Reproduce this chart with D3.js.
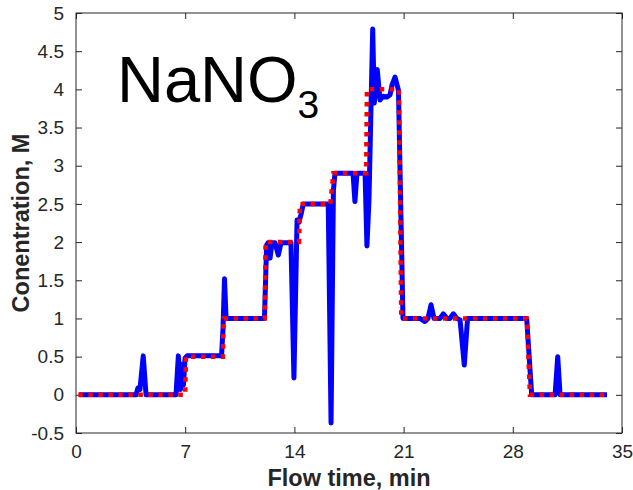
<!DOCTYPE html>
<html>
<head>
<meta charset="utf-8">
<script src="https://cdn.jsdelivr.net/npm/d3@7"></script>
<style>
  body { margin: 0; background: #fff; }
  text { font-family: "Liberation Sans", Arial, sans-serif; }
</style>
</head>
<body>
<div id="plot"></div>
<script>
// measured concentration (blue, solid)
var timeMeas = [0.2, 3.85, 3.97, 4.1, 4.31, 4.49, 6.41, 6.56, 6.7, 6.79, 6.89, 6.99, 7.12,
  9.33, 9.42, 9.52, 9.62, 12.08, 12.22, 12.31, 12.44, 12.56, 12.76, 12.97, 13.14, 13.78,
  13.97, 14.17, 14.29, 14.42, 14.57, 16.17, 16.35, 16.5, 16.6, 17.76, 17.88, 18.01, 18.53,
  18.65, 18.78, 19.02, 19.12, 19.31, 19.49, 19.68, 19.94, 20.13, 20.26, 20.45, 20.58, 20.67,
  20.96, 22.05, 22.37, 22.56, 22.76, 22.95, 23.33, 23.54, 23.78, 23.97, 24.19, 24.42, 24.62,
  24.89, 25.1, 28.89, 29.21, 30.71, 30.88, 31.03, 34.04];
var concMeas = [0, 0, 0.09, 0.07, 0.51, 0, 0, 0.51, 0.07, 0.4, 0.13, 0.48, 0.51,
  0.51, 0.85, 1.52, 1.0, 1.0, 1.96, 1.99, 1.79, 1.99, 1.99, 1.83, 1.99, 1.99,
  0.22, 2.29, 2.26, 2.36, 2.5, 2.5, -0.37, 2.68, 2.9, 2.9, 2.53, 2.9, 2.9,
  1.95, 2.55, 4.79, 3.82, 4.26, 3.86, 3.91, 3.9, 3.93, 4.06, 4.16, 4.06, 3.99,
  1.0, 1.0, 0.96, 1.0, 1.18, 1.0, 1.0, 1.06, 1.0, 1.0, 1.06, 1.0, 0.98,
  0.39, 1.0, 1.0, 0, 0, 0.5, 0, 0];

// set point (red, dotted)
var timeSet = [0.15, 7.0, 7.05, 9.42, 9.47, 12.1, 12.15, 14.3, 14.35, 16.3, 16.5, 18.6, 18.65,
  20.7, 20.85, 28.9, 29.1, 34.05];
var concSet = [0, 0, 0.5, 0.5, 1.0, 1.0, 2.0, 2.0, 2.5, 2.5, 2.9, 2.9, 4.0,
  4.0, 1.0, 1.0, 0, 0];

var xTicks = [0, 7, 14, 21, 28, 35];
var yTicks = [-0.5, 0, 0.5, 1, 1.5, 2, 2.5, 3, 3.5, 4, 4.5, 5];

var W = 633, H = 490;
var margin = {top: 13, right: 11, bottom: 57, left: 76},
    width = W - margin.left - margin.right,
    height = H - margin.top - margin.bottom;

var svg = d3.select("div#plot")
  .append("svg")
    .attr("width", W)
    .attr("height", H);

var g = svg.append("g")
    .attr("transform", "translate(" + margin.left + "," + margin.top + ")");

var x = d3.scaleLinear().domain([0, 35]).range([0, width]);
var y = d3.scaleLinear().domain([-0.5, 5]).range([height, 0]);

var axisColor = "#262626";
var tickLen = 6;

// axes, ticks pointing inward
var xAxis = g.append("g")
  .attr("transform", "translate(0," + height + ")")
  .call(d3.axisBottom(x).tickValues(xTicks).tickSizeInner(-tickLen).tickSizeOuter(0).tickPadding(12));
var yAxis = g.append("g")
  .call(d3.axisLeft(y).tickValues(yTicks).tickSizeInner(-tickLen).tickSizeOuter(0).tickPadding(12)
    .tickFormat(function(d) { return String(d); }));
var xTop = g.append("g")
  .call(d3.axisTop(x).tickValues(xTicks).tickSizeInner(-tickLen).tickSizeOuter(0).tickFormat(""));
var yRight = g.append("g")
  .attr("transform", "translate(" + width + ",0)")
  .call(d3.axisRight(y).tickValues(yTicks).tickSizeInner(-tickLen).tickSizeOuter(0).tickFormat(""));

[xAxis, yAxis, xTop, yRight].forEach(function(a) {
  a.select(".domain").remove();
  a.selectAll("line").attr("stroke", axisColor).attr("stroke-width", 1);
  a.selectAll("text").attr("fill", axisColor).style("font-size", "19px")
    .style("font-family", "'Liberation Sans', Arial, sans-serif");
});

// box
g.append("rect")
  .attr("x", 0).attr("y", 0)
  .attr("width", width).attr("height", height)
  .attr("fill", "none")
  .attr("stroke", axisColor)
  .attr("stroke-width", 1);

var measured = timeMeas.map(function(t, i) { return {t: t, c: concMeas[i]}; });
var setpoint = timeSet.map(function(t, i) { return {t: t, c: concSet[i]}; });

var line = d3.line()
  .x(function(d) { return x(d.t); })
  .y(function(d) { return y(d.c); });

g.append("path")
  .datum(measured)
  .attr("fill", "none")
  .attr("stroke", "#0000ff")
  .attr("stroke-width", 5)
  .attr("stroke-linejoin", "round")
  .attr("d", line);

g.append("path")
  .datum(setpoint)
  .attr("fill", "none")
  .attr("stroke", "#ff0000")
  .attr("stroke-width", 4.5)
  .attr("stroke-dasharray", "4.5,5.5")
  .attr("d", line);

// title inside plot
var title = g.append("text")
  .attr("x", 117 - margin.left)
  .attr("y", 102 - margin.top)
  .attr("fill", "#000")
  .style("font-size", "65px");
title.append("tspan").text("NaNO");
title.append("tspan")
  .attr("dy", 16)
  .style("font-size", "39px")
  .text("3");

// axis labels
svg.append("text")
  .attr("x", margin.left + width / 2)
  .attr("y", 486)
  .attr("text-anchor", "middle")
  .attr("fill", axisColor)
  .style("font-size", "23.5px")
  .style("font-weight", "bold")
  .text("Flow time, min");

svg.append("text")
  .attr("transform", "translate(29," + (margin.top + height / 2) + ") rotate(-90)")
  .attr("text-anchor", "middle")
  .attr("fill", axisColor)
  .style("font-size", "23.5px")
  .style("font-weight", "bold")
  .text("Conentration, M");
</script>
</body>
</html>
